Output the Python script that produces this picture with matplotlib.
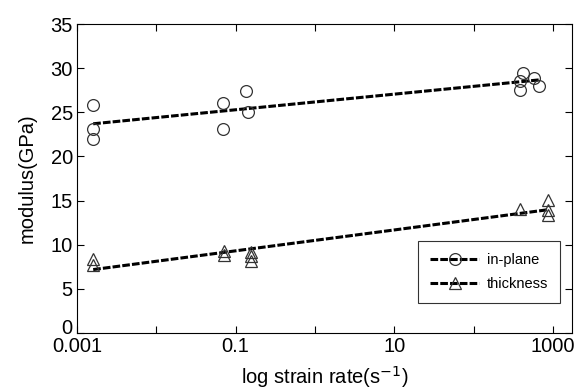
import numpy as np
import matplotlib.pyplot as plt
import matplotlib.transforms as mtransforms
from matplotlib.ticker import FixedLocator, NullLocator

plt.rcParams['font.family'] = ['Liberation Sans', 'DejaVu Sans']

# in-plane data
inplane_rate = [0.0016, 0.0016, 0.0016, 0.07, 0.07, 0.134, 0.145, 385, 385, 425, 570, 670]
inplane_mod = [25.8, 23.1, 22.0, 26.0, 23.1, 27.4, 25.0, 28.6, 27.5, 29.5, 28.9, 28.0]

# thickness data
thick_rate = [0.0016, 0.0016, 0.072, 0.072, 0.155, 0.155, 0.155, 385, 875, 875, 875]
thick_mod = [8.4, 7.7, 9.3, 8.8, 9.2, 8.7, 8.2, 14.0, 15.1, 13.9, 13.4]

fig = plt.figure(figsize=(5.85, 3.89), dpi=100)
ax = fig.add_axes([77/585, 1-333/389, (572-77)/585, (333-24)/389])

dash = (0, (2.5, 0.7))
for rate, mod, mk, lab in [(inplane_rate, inplane_mod, 'o', 'in-plane'),
                           (thick_rate, thick_mod, '^', 'thickness')]:
    lx = np.log10(rate)
    k, b = np.polyfit(lx, mod, 1)
    xs = np.array([min(lx), max(lx)])
    ax.plot(10**xs, k*xs + b, color='black', lw=2.2, ls=dash)
    ax.plot(rate, mod, ls='none', marker=mk, ms=8.5, mfc='none', mec='#333333', mew=0.9)
    # legend proxy
    ax.plot([], [], color='black', lw=2.2, ls=dash, marker=mk, ms=8.5,
            mfc='none', mec='#333333', mew=0.9, label=lab)

ax.set_xscale('log')
ax.set_xlim(0.001, 1740)
ax.set_ylim(0, 35)
ax.xaxis.set_major_locator(FixedLocator([1e-3, 1e-2, 1e-1, 1, 10, 100, 1000]))
ax.xaxis.set_minor_locator(NullLocator())
ax.set_xticklabels(['0.001', '', '0.1', '', '10', '', '1000'])
ax.set_yticks(range(0, 36, 5))
ax.tick_params(direction='in', top=True, right=True, length=5, width=0.8,
               labelsize=14.5, pad=3)
for s in ax.spines.values():
    s.set_linewidth(0.8)

# lift the "0" label a little so it clears "0.001"
lbl0 = ax.get_yticklabels()[0]
lbl0.set_transform(lbl0.get_transform() +
                   mtransforms.ScaledTranslation(0, 6/100, fig.dpi_scale_trans))

ax.set_xlabel('log strain rate(s$^{-1}$)', fontsize=14.5, labelpad=6)
ax.set_ylabel('modulus(GPa)', fontsize=14.5, labelpad=10)

leg = ax.legend(loc='lower right', bbox_to_anchor=(0.99, 0.075), fontsize=10.5,
                frameon=True, fancybox=False, edgecolor='black', handlelength=3.4,
                borderpad=0.8, labelspacing=0.7, handletextpad=0.5)
leg.get_frame().set_linewidth(0.8)

fig.savefig('out.png', dpi=100)
